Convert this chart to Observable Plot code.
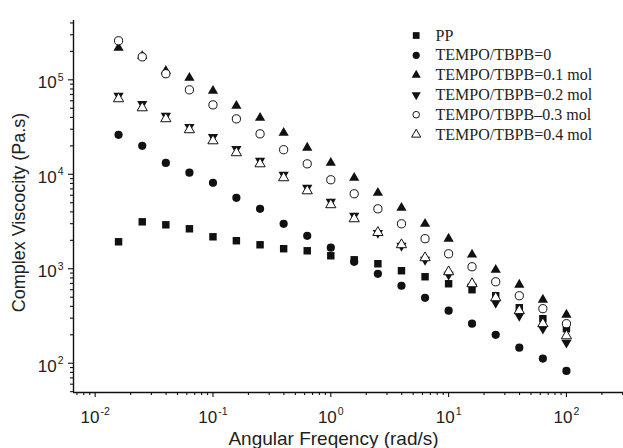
<!DOCTYPE html>
<html><head><meta charset="utf-8">
<script src="https://cdn.jsdelivr.net/npm/d3@7"></script>
<script src="https://cdn.jsdelivr.net/npm/@observablehq/plot@0.6"></script>
<style>
body{margin:0;background:#fff;}
#chart{width:623px;height:448px;}
</style></head><body><div id="chart"></div>
<script>
// ---- data ----
const freq    = [0.0158,0.0251,0.0398,0.0631,0.1,0.158,0.251,0.398,0.631,1,1.58,2.51,3.98,6.31,10,15.8,25.1,39.8,63.1,100];
const ppVisc  = [1930,3140,2920,2650,2180,1980,1795,1630,1550,1373,1245,1130,953,823,694,600,518,387,296,232];
const tempo0  = [26200,20000,13200,10400,8130,5640,4310,2990,2230,1670,1185,885,661,493,360,262,200,146,112,83];
const tempo01 = [218000,178000,124000,105000,76500,53100,39600,27500,19100,13200,9180,6370,4420,2990,2080,1410,975,677,470,326];
const tempo02 = [67700,55700,41600,31800,24900,18600,13900,9880,7200,5120,3640,2400,1750,1245,865,645,437,318,232,165];
const tempo03 = [259000,175000,116000,78300,54300,38600,26800,18200,12900,8750,6220,4310,2990,2080,1440,1050,728,518,378,262];
const tempo04 = [63000,50500,38700,29600,22600,16900,12900,9180,6680,4760,3380,2420,1795,1306,929,694,493,360,262,195];

const seriesNames = ["PP","TEMPO/TBPB=0","TEMPO/TBPB=0.1 mol","TEMPO/TBPB=0.2 mol","TEMPO/TBPB\u20130.3 mol","TEMPO/TBPB=0.4 mol"];
const seriesValues = [ppVisc, tempo0, tempo01, tempo02, tempo03, tempo04];

const xTicks = [0.01,0.1,1,10,100];
const xTickLabels = ["-2","-1","0","1","2"];
const yTicks = [100,1000,10000,100000];
const yTickLabels = ["2","3","4","5"];
const xTitle = "Angular Freqency (rad/s)";
const yTitle = "Complex Viscocity (Pa.s)";

// ---- styling ----
const sqrt3 = Math.sqrt(3);
const triUp = {draw(c, s){const y=-Math.sqrt(s/(sqrt3*3)); c.moveTo(0,y*2); c.lineTo(-sqrt3*y,-y); c.lineTo(sqrt3*y,-y); c.closePath();}};
const triDown = {draw(c, s){const y=Math.sqrt(s/(sqrt3*3)); c.moveTo(0,y*2); c.lineTo(-sqrt3*y,-y); c.lineTo(sqrt3*y,-y); c.closePath();}};
const ink = "#111";
const styles = [
  {symbol:"square", fill:ink, stroke:"none", r:4.2, lr:3.8},
  {symbol:"circle", fill:ink, stroke:"none", r:4.1, lr:3.6},
  {symbol:triUp, fill:ink, stroke:"none", r:3.8, lr:3.4},
  {symbol:triDown, fill:ink, stroke:"none", r:3.8, lr:3.4},
  {symbol:"circle", fill:"white", stroke:ink, r:4.1, lr:3.3},
  {symbol:triUp, fill:"white", stroke:ink, r:3.8, lr:3.4}
];

const xDomain = [0.00655, 305];
const yDomain = [49, 424600];
const minorX = [], minorY = [];
for (let k=-3;k<=2;k++) for (let m=2;m<=9;m++){const v=m*10**k; if(v>xDomain[0]&&v<xDomain[1]) minorX.push(v);}
for (let k=1;k<=5;k++) for (let m=2;m<=9;m++){const v=m*10**k; if(v>yDomain[0]&&v<yDomain[1]) minorY.push(v);}

const marks = [];
marks.push(Plot.axisX(minorX, {tickSize:3, tickFormat:()=>"", label:null, stroke:ink, strokeWidth:1.1}));
marks.push(Plot.axisY(minorY, {tickSize:3, tickFormat:()=>"", label:null, stroke:ink, strokeWidth:1.1}));
marks.push(Plot.axisX(xTicks, {tickSize:5, tickPadding:13, label:null, stroke:ink, strokeWidth:1.1, fill:"#222", fontSize:17,
  tickFormat:d=>"10^"+xTickLabels[xTicks.indexOf(d)]}));
marks.push(Plot.axisY(yTicks, {tickSize:5, tickPadding:5, label:null, stroke:ink, strokeWidth:1.1, fill:"#222", fontSize:17,
  tickFormat:d=>"10^"+yTickLabels[yTicks.indexOf(d)]}));
marks.push(Plot.ruleX([xDomain[0]], {stroke:ink, strokeWidth:1.4}));
marks.push(Plot.ruleY([yDomain[0]], {stroke:ink, strokeWidth:1.6}));

seriesValues.forEach((vals, i) => {
  const st = styles[i];
  marks.push(Plot.dot(freq.map((f,j)=>({f, v:vals[j]})), {x:"f", y:"v", symbol:st.symbol, r:st.r, fill:st.fill, stroke:st.stroke, strokeWidth:1}));
});

// legend
const legX = 342.7, legY0 = 15, legStep = 19.8;
seriesNames.forEach((name, i) => {
  const st = styles[i];
  marks.push(Plot.dot([0], {frameAnchor:"top-left", dx:legX, dy:legY0+i*legStep, symbol:st.symbol, r:st.lr, fill:st.fill, stroke:st.stroke, strokeWidth:1}));
  marks.push(Plot.text([name], {frameAnchor:"top-left", dx:legX+19.3, dy:legY0+i*legStep, text:d=>d, textAnchor:"start", lineAnchor:"middle",
    fontFamily:"'Liberation Serif','Times New Roman',serif", fontSize:16, fill:"#222"}));
});

// axis titles
marks.push(Plot.text([xTitle], {frameAnchor:"bottom", dx:-15, dy:46, text:d=>d, textAnchor:"middle", lineAnchor:"middle", fontSize:19, fill:"#222"}));
marks.push(Plot.text([yTitle], {frameAnchor:"left", dx:-54, dy:6, rotate:-90, text:d=>d, textAnchor:"middle", lineAnchor:"middle", fontSize:18, fill:"#222"}));

const svg = Plot.plot({
  width:623, height:448,
  marginLeft:73, marginRight:0, marginTop:20, marginBottom:56,
  style:{fontFamily:"'Liberation Sans',Arial,sans-serif", background:"#fff", overflow:"visible"},
  x:{type:"log", domain:xDomain},
  y:{type:"log", domain:yDomain},
  marks
});

// superscript exponents in tick labels
svg.querySelectorAll('[aria-label="x-axis tick label"] text, [aria-label="y-axis tick label"] text').forEach(t => {
  const s = t.textContent;
  if (!s.includes("^")) return;
  const [base, exp] = s.split("^");
  const isY = t.closest('[aria-label="y-axis tick label"]') != null;
  t.textContent = "";
  const ns = "http://www.w3.org/2000/svg";
  const b = document.createElementNS(ns, "tspan");
  b.textContent = base;
  if (isY) b.setAttribute("dy", "3");
  const e = document.createElementNS(ns, "tspan");
  e.textContent = exp;
  e.setAttribute("font-size", "10.5");
  e.setAttribute("dy", "-7.7");
  e.setAttribute("dx", "1");
  t.appendChild(b); t.appendChild(e);
});

document.getElementById("chart").appendChild(svg);
</script>
</body></html>
